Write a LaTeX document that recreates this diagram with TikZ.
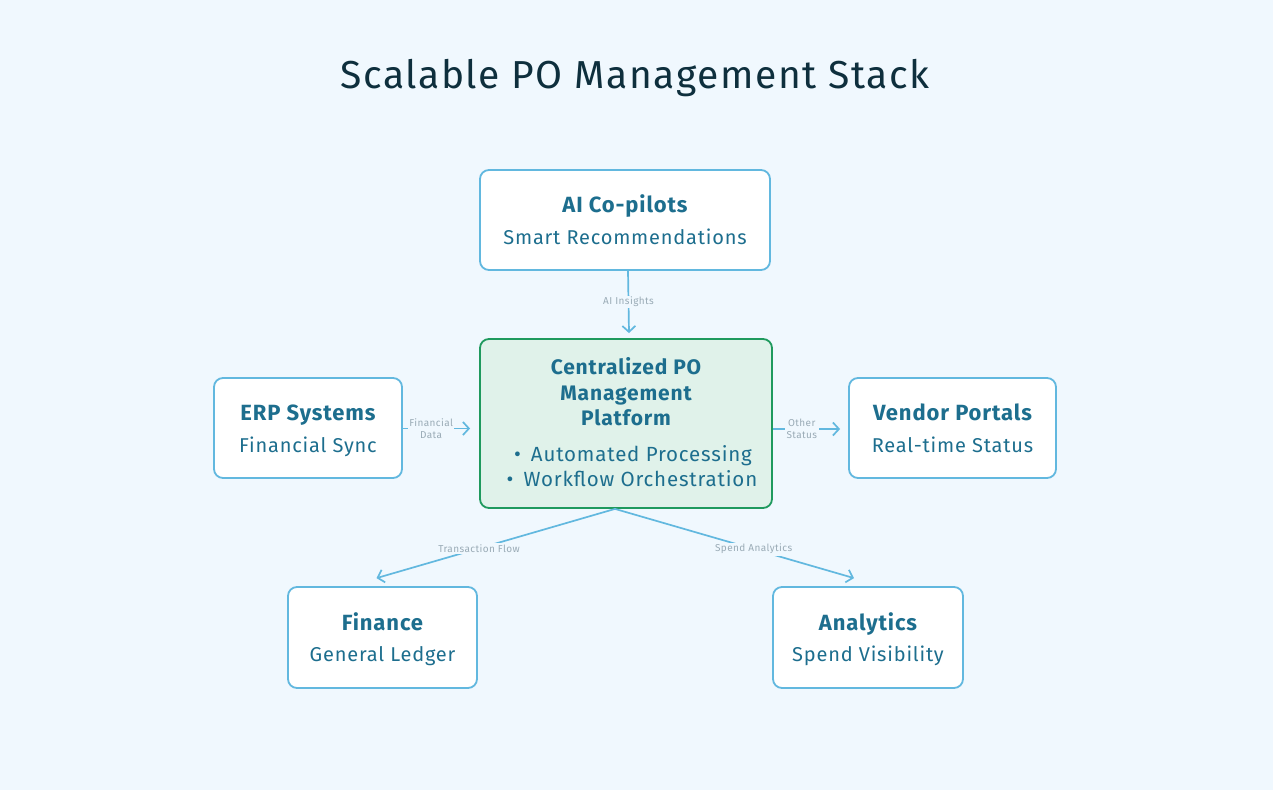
\documentclass[tikz,border=0pt]{standalone}
\usepackage{fontspec}
\setmainfont{Fira Sans}[LetterSpace=4]
\usetikzlibrary{arrows.meta,calc}
\definecolor{bgc}{HTML}{F0F8FE}
\definecolor{boxline}{HTML}{62B8DF}
\definecolor{txtc}{HTML}{1D6E8E}
\definecolor{titc}{HTML}{0E2F3D}
\definecolor{grnline}{HTML}{1F9A5E}
\definecolor{grnfill}{HTML}{E0F2EA}
\definecolor{lblc}{HTML}{9AABB6}
\tikzset{
  box/.style={draw=boxline, line width=1.8pt, fill=white, rounded corners=9pt, inner sep=0pt},
  hubbox/.style={draw=grnline, line width=1.8pt, fill=grnfill, rounded corners=9pt, inner sep=0pt},
  conn/.style={draw=boxline, line width=1.7pt, -{Straight Barb[length=6pt,width=13pt,line width=1.7pt]}},
  lbl/.style={fill=bgc, text=lblc, font=\fontsize{10}{12}\selectfont, inner sep=1.5pt, align=center},
  bttl/.style={anchor=base, text=txtc, inner sep=0pt, font=\fontsize{22}{26}\selectfont\bfseries},
  bsub/.style={anchor=base, text=txtc, inner sep=0pt, font=\fontsize{20}{24}\selectfont},
  hubttl/.style={anchor=base, text=txtc, inner sep=0pt, font=\fontsize{21}{25}\selectfont\bfseries},
  hubitem/.style={anchor=base, text=txtc, inner sep=0pt, font=\fontsize{20.5}{24}\selectfont},
}
\newcommand{\boxtext}[3]{%
  \node[bttl] (#1-t) at ($(#1.center)+(0,-7.3)$) {#2};
  \node[bsub] (#1-s) at ($(#1.center)+(0,24.3)$) {#3};}
\newcommand{\dotb}{\raisebox{0.5pt}{\fontsize{21}{21}\selectfont\textbullet}\hspace{10pt}}
\begin{document}
\begin{tikzpicture}[x=1pt,y=-1pt]
\useasboundingbox[fill=bgc] (0,0) rectangle (1273,790);
\node[text=titc, anchor=base, inner sep=0pt, font=\fontsize{39}{44}\selectfont] (title) at (635,88) {Scalable PO Management Stack};

\node[box, minimum width=290pt, minimum height=100pt] (ai) at (625,220) {};
\boxtext{ai}{AI Co-pilots}{Smart Recommendations}
\node[hubbox, minimum width=292pt, minimum height=169pt] (hub) at (626,423.5) {};
\node[hubttl] (hub-t1) at (626,374.3) {Centralized PO};
\node[hubttl] (hub-t2) at (626,400) {Management};
\node[hubttl] (hub-t3) at (626,425.5) {Platform};
\node[hubitem] (hub-i1) at (633,461.7) {\dotb Automated Processing};
\node[hubitem] (hub-i2) at (632,486.7) {\dotb Workflow Orchestration};
\node[box, minimum width=188pt, minimum height=100pt] (erp) at (308,428) {};
\boxtext{erp}{ERP Systems}{Financial Sync}
\node[box, minimum width=207pt, minimum height=100pt] (ven) at (952.5,428) {};
\boxtext{ven}{Vendor Portals}{Real-time Status}
\node[box, minimum width=189pt, minimum height=101pt] (fin) at (382.5,637.5) {};
\boxtext{fin}{Finance}{General Ledger}
\node[box, minimum width=190pt, minimum height=101pt] (ana) at (868,637.5) {};
\boxtext{ana}{Analytics}{Spend Visibility}

\draw[conn] ([xshift=3pt]ai.south) -- ([xshift=3pt,yshift=5pt]hub.north) node[lbl, pos=0.5] (l1) {AI Insights};
\coordinate (erpend) at ([xshift=-9pt]hub.west |- erp.east);
\draw[conn] ([yshift=-0.5pt]erp.east) -- ([yshift=-0.5pt]erpend) node[lbl, pos=0.42] (l2) {Financial\\Data};
\coordinate (venstart) at ([yshift=-5.5pt]hub.east);
\coordinate (venend) at ([xshift=-8pt]ven.west |- venstart);
\draw[conn] (venstart) -- (venend) node[lbl, pos=0.43] (l3) {Other\\Status};
\coordinate (apex) at ([xshift=-11pt]hub.south);
\coordinate (finend) at ($(fin.north)+(-6,-8)$);
\coordinate (anaend) at ($(ana.north)+(-14,-8)$);
\draw[conn] (apex) -- (finend) node[lbl, pos=0.57] (l4) {Transaction Flow};
\draw[conn] (apex) -- (anaend) node[lbl, pos=0.58] (l5) {Spend Analytics};
\end{tikzpicture}
\end{document}
